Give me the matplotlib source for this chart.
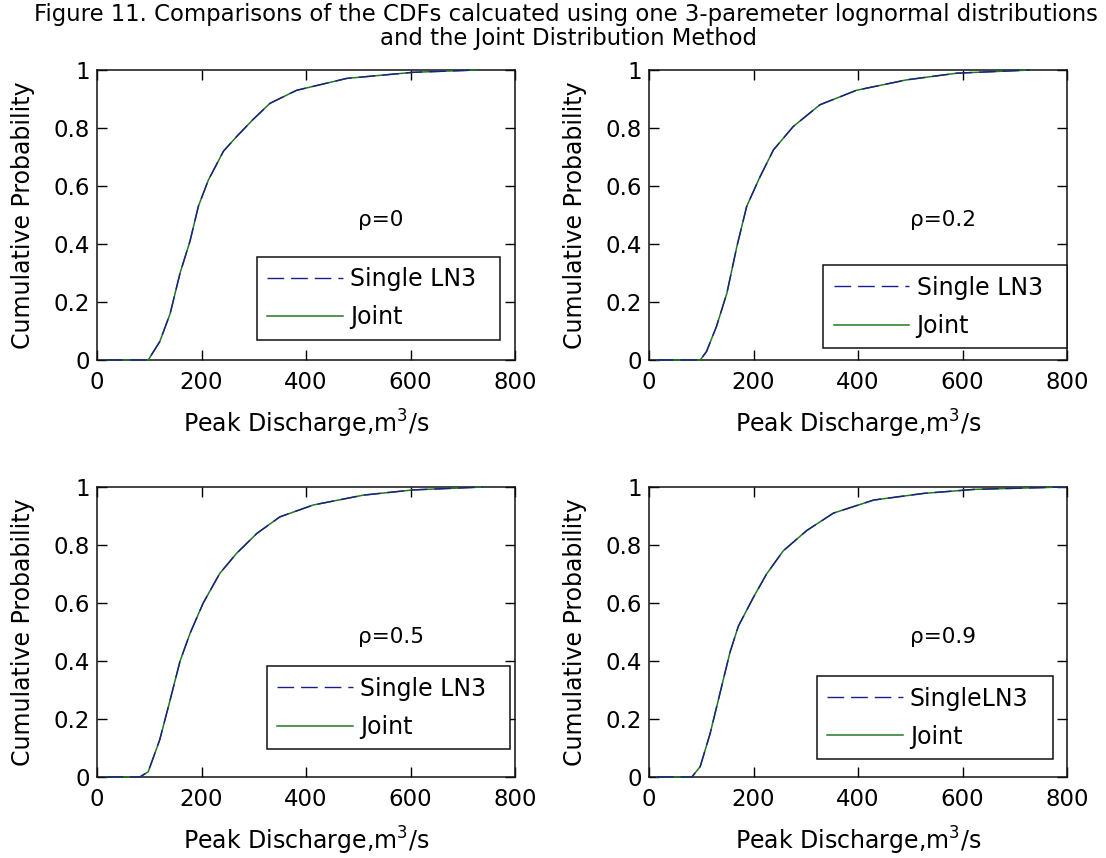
import matplotlib
matplotlib.use("Agg")
import matplotlib.pyplot as plt

plt.rcParams["font.family"] = ["DejaVu Sans"]
plt.rcParams["mathtext.default"] = "regular"

# Peak discharge (m^3/s) and cumulative probability for each correlation case
q_rho0 = [18, 98, 120, 140, 159, 178, 194, 213, 242, 267, 299, 331, 382, 478, 605, 727]
p_rho0 = [0, 0, 0.063, 0.16, 0.30, 0.41, 0.53, 0.62, 0.72, 0.77, 0.83, 0.885, 0.93, 0.971, 0.992, 1.0]

q_rho02 = [15, 98, 110, 129, 149, 168, 187, 212, 238, 276, 327, 397, 493, 589, 730]
p_rho02 = [0, 0, 0.029, 0.115, 0.23, 0.39, 0.53, 0.63, 0.724, 0.805, 0.88, 0.93, 0.966, 0.989, 1.0]

q_rho05 = [18, 82, 98, 120, 140, 159, 178, 203, 235, 267, 306, 350, 414, 510, 605, 739]
p_rho05 = [0, 0, 0.018, 0.128, 0.266, 0.40, 0.495, 0.599, 0.702, 0.771, 0.84, 0.897, 0.938, 0.972, 0.99, 1.0]

q_rho09 = [15, 82, 98, 117, 136, 155, 171, 200, 225, 257, 302, 353, 430, 526, 624, 796]
p_rho09 = [0, 0, 0.036, 0.15, 0.29, 0.43, 0.52, 0.62, 0.70, 0.78, 0.85, 0.91, 0.955, 0.978, 0.992, 1.0]

rho_labels = ["\u03c1=0", "\u03c1=0.2", "\u03c1=0.5", "\u03c1=0.9"]
ln3_labels = ["Single LN3", "Single LN3", "Single LN3", "SingleLN3"]
x_ticks = [0, 200, 400, 600, 800]
y_ticks = [0, 0.2, 0.4, 0.6, 0.8, 1]
y_ticklabels = ["0", "0.2", "0.4", "0.6", "0.8", "1"]

panels = [(q_rho0, p_rho0), (q_rho02, p_rho02), (q_rho05, p_rho05), (q_rho09, p_rho09)]

W, H = 1106, 858
fig = plt.figure(figsize=(W / 100, H / 100), dpi=100)

# axes rectangles in pixels: left, top, right, bottom
rects = [(97, 70, 515, 360), (649, 70, 1067, 360),
         (97, 487, 515, 777), (649, 487, 1067, 777)]
legend_anchor = [(0.382, 0.069, 0.582), (0.417, 0.040, 0.583),
                 (0.406, 0.095, 0.582), (0.401, 0.061, 0.565)]

TICK_FS = 16.5
LABEL_FS = 17
LEG_FS = 17
blue = "#1c1c8c"
green = "#1f7a1f"

for i, ((q, p), (l, t, r, b)) in enumerate(zip(panels, rects)):
    ax = fig.add_axes([l / W, 1 - b / H, (r - l) / W, (b - t) / H])
    ax.plot(q, p, color=green, lw=1.1, label="Joint", zorder=3, clip_on=False)
    ax.plot(q, p, color=blue, lw=1.0, ls=(0, (12, 5)), label=ln3_labels[i],
            zorder=3.1, clip_on=False)
    ax.set_xlim(0, 800)
    ax.set_ylim(0, 1)
    ax.set_xticks(x_ticks)
    ax.set_yticks(y_ticks)
    ax.set_yticklabels(y_ticklabels)
    ax.tick_params(direction="in", length=7, width=1, top=True, right=True,
                   labelsize=TICK_FS, pad=5)
    ax.tick_params(axis="x", pad=8)
    for s in ax.spines.values():
        s.set_linewidth(1.1)
        s.set_color("#111111")
    ax.set_xlabel("Peak Discharge,m$^3$/s", fontsize=LABEL_FS)
    ax.set_ylabel("Cumulative Probability", fontsize=LABEL_FS)
    ax.xaxis.set_label_coords(0.5, -0.165)
    ax.yaxis.set_label_coords(-0.148, 0.5)
    ax.text(0.624, 0.483, rho_labels[i], transform=ax.transAxes,
            fontsize=15.5, va="center", ha="left")
    handles, labels = ax.get_legend_handles_labels()
    x0, y0, w = legend_anchor[i]
    leg = ax.legend(handles[::-1], labels[::-1], loc="lower left",
                    bbox_to_anchor=(x0, y0, w, 0.2), mode="expand",
                    fontsize=LEG_FS, handlelength=3.2, handletextpad=0.3,
                    borderpad=0.45, labelspacing=0.6, fancybox=False,
                    framealpha=1, edgecolor="#111111", borderaxespad=0)
    leg.set_zorder(5)
    leg.get_frame().set_linewidth(1.1)

fig.text(566 / W, 1 - 15 / H, "Figure 11. Comparisons of the CDFs calcuated using one 3-paremeter lognormal distributions",
         ha="center", va="center", fontsize=16.4)
fig.text(568 / W, 1 - 39 / H, "and the Joint Distribution Method",
         ha="center", va="center", fontsize=16.4)

fig.savefig("out.png", dpi=100, facecolor="white")
